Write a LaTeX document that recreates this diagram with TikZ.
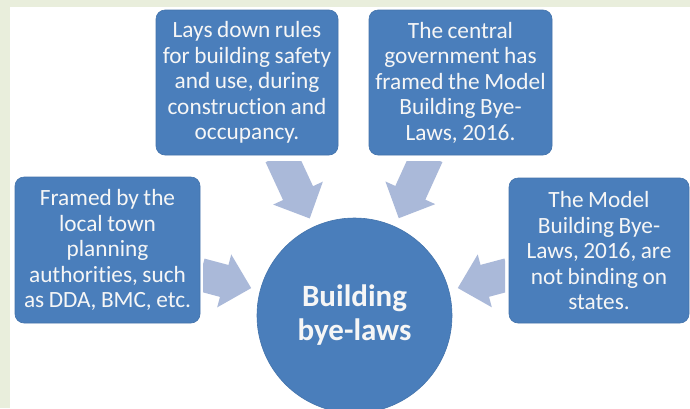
\documentclass[tikz,border=0pt]{standalone}
\usepackage{fontspec}
\setmainfont{Carlito}[Ligatures=NoCommon, WordSpace=0.85]
\usetikzlibrary{arrows.meta}
\definecolor{bgstrip}{HTML}{E9EEDC}
\definecolor{boxblue}{HTML}{4A7EBB}
\definecolor{arrowc}{HTML}{AAB9D9}
\definecolor{txtc}{HTML}{F6F6F6}
\begin{document}
\begin{tikzpicture}[x=1pt,y=-1pt,
  box/.style={rectangle, rounded corners=9pt, fill=boxblue, draw=boxblue!92!black, line width=0.6pt,
    inner sep=0pt, align=center, text=txtc,
    font=\fontsize{23.3}{25.5}\selectfont},
  hub/.style={circle, fill=boxblue, draw=boxblue!92!black, line width=0.6pt, inner sep=0pt,
    minimum size=195pt, align=center, text=txtc,
    font=\fontsize{31}{34}\selectfont\bfseries},
  bigarrow/.style={draw=arrowc, line width=33pt,
    -{Triangle[length=28pt 0 0, width=53pt 0 0, fill=arrowc]}, shorten >=9pt}]
\clip (0,0) rectangle (690,408);
\fill[bgstrip] (0,0) rectangle (690,408);
\fill[white] (10,7) rectangle (690,408);

\node[box, minimum width=182pt, minimum height=145pt] (tl) at (247,82.5)
  {Lays down rules\\for building safety\\and use, during\\construction and\\occupancy.};
\node[box, minimum width=183pt, minimum height=145pt] (tr) at (460.5,82.5)
  {The central\\government has\\framed the Model\\Building Bye-\\Laws, 2016.};
\node[box, minimum width=185pt, minimum height=146pt] (lb) at (107.5,250)
  {Framed by the\\local town\\planning\\authorities, such\\as DDA, BMC, etc.};
\node[box, minimum width=180pt, minimum height=145pt] (rb) at (599,250.5)
  {The Model\\Building Bye-\\Laws, 2016, are\\not binding on\\states.};
\node[hub] (hub) at (354.5,315.5) {Building\\bye-laws};

\begin{scope}
  \clip (203,161) rectangle (505,408);
  \draw[bigarrow] (tl) -- (hub);
  \draw[bigarrow] (tr) -- (hub);
  \draw[bigarrow] (lb) -- (hub);
  \draw[bigarrow] (rb) -- (hub);
\end{scope}
\end{tikzpicture}
\end{document}
